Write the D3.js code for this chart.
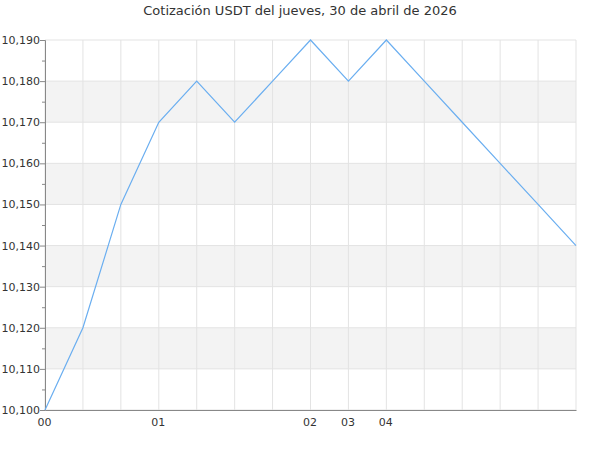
<!DOCTYPE html>
<html>
<head>
<meta charset="utf-8">
<script src="https://cdn.jsdelivr.net/npm/d3@7"></script>
<style>
  body { margin: 0; background: #fff; }
  text { font-family: "DejaVu Sans", sans-serif; fill: #333; }
</style>
</head>
<body>
<div id="chart"></div>
<script>
var svgWidth = 600;
var svgHeight = 450;

var margin = { top: 40, right: 24, bottom: 40, left: 45 };
var width = svgWidth - margin.left - margin.right;
var height = svgHeight - margin.top - margin.bottom;

// data: one point per gridline
var hourLabels = ["00", "", "", "01", "", "", "", "02", "03", "04", "", "", "", "", ""];
var prices = [10.100, 10.120, 10.150, 10.170, 10.180, 10.170, 10.180, 10.190,
              10.180, 10.190, 10.180, 10.170, 10.160, 10.150, 10.140];
var yTicks = [10.10, 10.11, 10.12, 10.13, 10.14, 10.15, 10.16, 10.17, 10.18, 10.19];

var svg = d3.select("#chart")
  .append("svg")
  .attr("width", svgWidth)
  .attr("height", svgHeight);

svg.append("text")
  .attr("x", svgWidth / 2)
  .attr("y", 15)
  .attr("text-anchor", "middle")
  .attr("font-size", "13px")
  .text("Cotización USDT del jueves, 30 de abril de 2026");

var chart = svg.append("g")
  .attr("transform", `translate(${margin.left}, ${margin.top})`);

var x = d3.scaleLinear()
  .domain([0, prices.length - 1])
  .range([0, width]);

var y = d3.scaleLinear()
  .domain([10.10, 10.19])
  .range([height, 0]);

// alternating bands
var bands = [];
for (var i = 1; i < yTicks.length - 1; i += 2) bands.push([yTicks[i], yTicks[i + 1]]);
chart.selectAll("rect.band").data(bands).enter()
  .append("rect")
  .attr("class", "band")
  .attr("x", 0)
  .attr("width", width)
  .attr("y", d => y(d[1]))
  .attr("height", d => y(d[0]) - y(d[1]))
  .attr("fill", "#f3f3f3");

// horizontal grid
chart.selectAll("line.hgrid").data(yTicks).enter()
  .append("line")
  .attr("x1", 0).attr("x2", width)
  .attr("y1", d => y(d)).attr("y2", d => y(d))
  .attr("stroke", "#e3e3e3");

// vertical grid
chart.selectAll("line.vgrid").data(d3.range(prices.length)).enter()
  .append("line")
  .attr("x1", d => x(d)).attr("x2", d => x(d))
  .attr("y1", 0).attr("y2", height)
  .attr("stroke", "#e3e3e3");

// y axis with minor ticks
var minorTicks = yTicks.slice(0, -1).map(d => d + 0.005);
chart.append("g")
  .call(d3.axisLeft(y).tickValues(minorTicks).tickSize(3).tickFormat(""))
  .call(g => g.select(".domain").remove())
  .selectAll("line").attr("stroke", "#888");

var leftAxis = chart.append("g")
  .call(d3.axisLeft(y).tickValues(yTicks).tickSize(5).tickPadding(2)
    .tickFormat(d3.format(",.3f")));
leftAxis.select(".domain").attr("stroke", "#888");
leftAxis.selectAll("line").attr("stroke", "#888");
leftAxis.selectAll("text")
  .attr("font-size", "11px")
  .attr("font-family", "DejaVu Sans, sans-serif")
  .attr("fill", "#333")
  .attr("x", -5)
  .attr("dx", 0)
  .text(d => d3.format(",.3f")(d).replace(".", ","));

// x axis
var bottomAxis = chart.append("g")
  .attr("transform", `translate(0, ${height})`)
  .call(d3.axisBottom(x).tickValues(d3.range(prices.length)).tickSize(0).tickPadding(8)
    .tickFormat(i => hourLabels[i]));
bottomAxis.select(".domain").attr("stroke", "#888");
bottomAxis.selectAll("text")
  .attr("font-size", "11px")
  .attr("font-family", "DejaVu Sans, sans-serif")
  .attr("fill", "#333")
  .attr("dx", "-1");

// price line
var line = d3.line()
  .x((d, i) => x(i))
  .y(d => y(d));

chart.append("path")
  .datum(prices)
  .attr("fill", "none")
  .attr("stroke", "#6aaef0")
  .attr("stroke-width", 1.2)
  .attr("d", line);
</script>
</body>
</html>
